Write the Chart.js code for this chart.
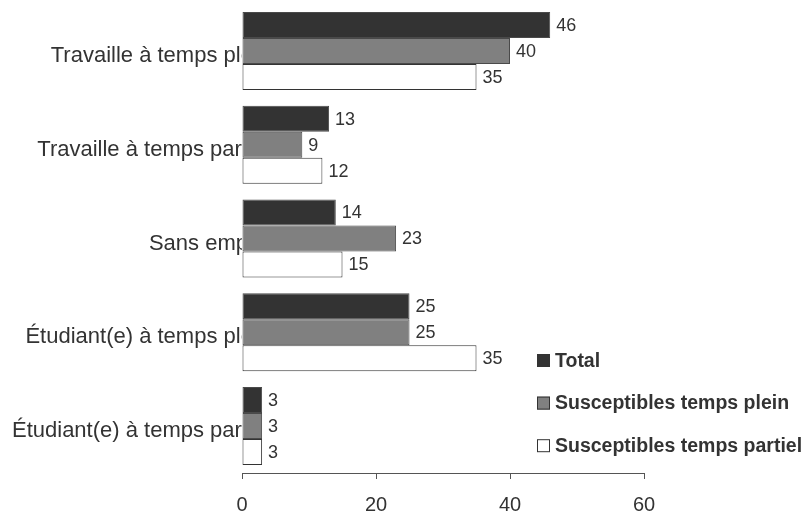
<!DOCTYPE html>
<html>
<head>
<meta charset="utf-8">
<script src="https://cdn.jsdelivr.net/npm/chart.js@4"></script>
<style>
  html, body { margin: 0; padding: 0; background: #fff; }
  #wrap { width: 804px; height: 512px; position: relative; }
</style>
</head>
<body>
<div id="wrap"><canvas id="chart"></canvas></div>
<script>
// Categories (top to bottom) and series values (%)
const categories = [
    'Travaille à temps plein',
    'Travaille à temps partiel',
    'Sans emploi',
    'Étudiant(e) à temps plein',
    'Étudiant(e) à temps partiel'
];
const totalValues = [46, 13, 14, 25, 3];
const pleinValues = [40, 9, 23, 25, 3];
const partielValues = [35, 12, 15, 35, 3];
const xTicks = [0, 20, 40, 60];

const FONT = '"Liberation Sans", Arial, sans-serif';
const TEXT = '#333333';

// Value labels to the right of each bar
const valueLabels = {
    id: 'valueLabels',
    afterDatasetsDraw(chart) {
        const ctx = chart.ctx;
        ctx.save();
        ctx.font = '18px ' + FONT;
        ctx.fillStyle = TEXT;
        ctx.textAlign = 'left';
        ctx.textBaseline = 'middle';
        chart.data.datasets.forEach((ds, i) => {
            chart.getDatasetMeta(i).data.forEach((bar, j) => {
                ctx.fillText(String(ds.data[j]), bar.x + 6, bar.y + 1);
            });
        });
        ctx.restore();
    }
};

// Legend in the lower right corner, stacked vertically
const cornerLegend = {
    id: 'cornerLegend',
    afterDraw(chart) {
        const ctx = chart.ctx;
        const left = 537, top = 354, gap = 42.6, box = 13;
        ctx.save();
        ctx.font = 'bold 19.5px ' + FONT;
        ctx.textAlign = 'left';
        ctx.textBaseline = 'middle';
        chart.data.datasets.forEach((ds, i) => {
            const y = top + i * gap;
            ctx.fillStyle = ds.backgroundColor;
            ctx.fillRect(left, y, box, box);
            ctx.strokeStyle = '#333';
            ctx.lineWidth = 1;
            ctx.strokeRect(left + 0.5, y + 0.5, box - 1, box - 1);
            ctx.fillStyle = TEXT;
            ctx.fillText(ds.label, left + 18, y + box / 2 + 1);
        });
        ctx.restore();
    }
};

const barStyle = {
    borderWidth: 1,
    borderSkipped: false,
    barPercentage: 1.0,
    categoryPercentage: 0.832
};

new Chart(document.getElementById('chart'), {
    type: 'bar',
    data: {
        labels: categories,
        datasets: [
            Object.assign({ label: 'Total', data: totalValues, backgroundColor: '#333333', borderColor: '#4a4a4a' }, barStyle),
            Object.assign({ label: 'Susceptibles temps plein', data: pleinValues, backgroundColor: '#808080', borderColor: '#4a4a4a' }, barStyle),
            Object.assign({ label: 'Susceptibles temps partiel', data: partielValues, backgroundColor: '#ffffff', borderColor: '#333333' }, barStyle)
        ]
    },
    options: {
        indexAxis: 'y',
        responsive: true,
        maintainAspectRatio: false,
        animation: false,
        layout: { padding: { left: 0, right: 160, top: 4, bottom: 0 } },
        plugins: {
            legend: { display: false },
            tooltip: { enabled: false }
        },
        scales: {
            x: {
                min: 0,
                max: 60,
                afterBuildTicks: scale => { scale.ticks = xTicks.map(v => ({ value: v })); },
                afterFit: scale => { scale.height = 39; },
                grid: { drawOnChartArea: false, drawTicks: true, tickLength: 6, color: '#555' },
                border: { display: true, color: '#555', width: 1 },
                ticks: { padding: 14, color: TEXT, font: { family: FONT, size: 20 } }
            },
            y: {
                afterFit: scale => { scale.width = 242; },
                grid: { display: false, drawTicks: false },
                border: { display: false },
                ticks: {
                    padding: -28,
                    labelOffset: 5,
                    color: TEXT,
                    font: { family: FONT, size: 22 }
                }
            }
        }
    },
    plugins: [valueLabels, cornerLegend]
});
</script>
</body>
</html>
